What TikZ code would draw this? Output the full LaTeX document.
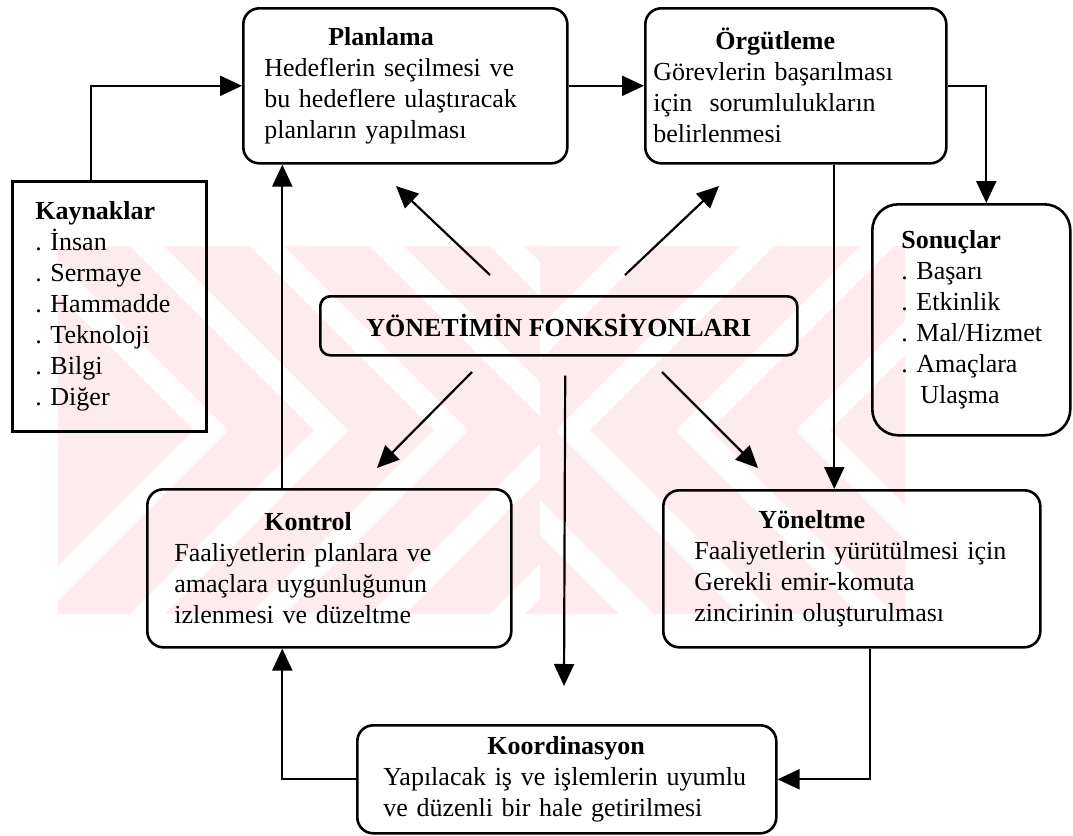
\documentclass[tikz,border=0pt]{standalone}
\usepackage{fontspec}
\setmainfont{Liberation Serif}
\usepackage{xcolor}
\usepackage{tikz}
\usetikzlibrary{arrows.meta,calc}
\definecolor{wmpink}{RGB}{253,235,238}

\begin{document}
\begin{tikzpicture}[x=0.5pt,y=-0.5pt,
		fbox/.style={draw,line width=1.3pt,rounded corners=8pt,anchor=north west,
			align=left,inner ysep=0pt,font=\fontsize{13}{15.5}\selectfont},
		arr/.style={-{Triangle[length=11pt,width=10pt]},line width=1.1pt}]
	\useasboundingbox (0,0) rectangle (1073,836);
	
	% Faint watermark behind the chart.
	\begin{scope}
		\clip (58,246) rectangle (905,614);
		\fill[wmpink] (58,246) rectangle (905,614);
		\begin{scope}
			\clip (58,246) rectangle (540,614);
			\foreach \s in {10,130,250,370,490}
			\fill[white] (\s,246) -- ++(34,0) -- ++(184,184) -- ++(-184,184)
			-- ++(-34,0) -- ++(184,-184) -- cycle;
		\end{scope}
		\begin{scope}
			\clip (540,246) rectangle (905,614);
			\foreach \s in {620,740,860,980,1100}
			\fill[white] (\s,246) -- ++(34,0) -- ++(-184,184) -- ++(184,184)
			-- ++(-34,0) -- ++(-184,-184) -- cycle;
		\end{scope}
	\end{scope}
	
	% The management functions.
	\node[fbox,text width=141pt,inner xsep=10.5pt,minimum height=77.5pt] (plan) at (242,7)
	{\hspace*{32pt}\textbf{Planlama}\\ Hedeflerin seçilmesi ve\\ bu hedeflere ulaştıracak\\ planların yapılması};
	\node[fbox,text width=142.5pt,inner xsep=4pt,minimum height=77.5pt] (org) at (644,7)
	{\hspace*{31pt}\textbf{Örgütleme}\\ Görevlerin başarılması\\ için~ sorumlulukların\\ belirlenmesi};
	\node[fbox,text width=155pt,inner xsep=13.5pt,minimum height=79pt] (kon) at (146,488)
	{\hspace*{45pt}\textbf{Kontrol}\\ Faaliyetlerin planlara ve\\ amaçlara uygunluğunun\\ izlenmesi ve düzeltme};
	\node[fbox,text width=157.5pt,inner xsep=15.5pt,minimum height=78.5pt] (yon) at (662,489)
	{\hspace*{32pt}\textbf{Yöneltme}\\ Faaliyetlerin yürütülmesi için\\ Gerekli emir-komuta\\ zincirinin oluşturulması};
	\node[fbox,text width=183.5pt,inner xsep=13pt,minimum height=54pt] (koor) at (356,724)
	{\hspace*{52pt}\textbf{Koordinasyon}\\ Yapılacak iş ve işlemlerin uyumlu\\ ve düzenli bir hale getirilmesi};
	
	% Inputs and outputs.
	\node[fbox,sharp corners,text width=74pt,inner xsep=11.5pt,minimum height=125pt] (kaynak) at (11,180)
	{\textbf{Kaynaklar}\\ .~İnsan\\ .~Sermaye\\ .~Hammadde\\ .~Teknoloji\\ .~Bilgi\\ .~Diğer};
	\node[fbox,rounded corners=13pt,text width=70pt,inner xsep=14.5pt,minimum height=115.5pt] (sonuc) at (871,203)
	{\textbf{Sonuçlar}\\ .~Başarı\\ .~Etkinlik\\ .~Mal/Hizmet\\ .~Amaçlara\\ \hspace*{9.5pt}Ulaşma};
	
	\node[fbox,rounded corners=5pt,align=center,minimum width=238.5pt,minimum height=29.5pt,inner xsep=0pt] (fonk) at (319,295)
	{\textbf{YÖNETİMİN FONKSİYONLARI}};
	
	% Free ends of the arrows leaving the centre.
	\coordinate (d1s) at (490,275); \coordinate (d1e) at (396,186);
	\coordinate (d2s) at (625,275); \coordinate (d2e) at (719,186);
	\coordinate (d3s) at (472,372); \coordinate (d3e) at (377,468);
	\coordinate (d4s) at (662,372); \coordinate (d4e) at (758,468);
	\coordinate (fdown) at (564,686);
	
	% The cycle of functions.
	\draw[arr] ([xshift=-9pt]kaynak.north) |- (plan.west);
	\draw[arr] (plan.east) -- (org.west);
	\draw[arr] (org.east) -| ([xshift=7.5pt]sonuc.north);
	\draw[arr] ([xshift=19.25pt]org.south) -- ([xshift=19.25pt]org.south |- yon.north);
	\draw[arr] ([xshift=9.25pt]yon.south) |- (koor.east);
	\draw[arr] (koor.west) -| ([xshift=-23.5pt]kon.south);
	\draw[arr] ([xshift=-23.5pt]kon.north) -- ([xshift=-23.5pt]kon.north |- plan.south);
	
	% Arrows from the centre.
	\draw[arr] (d1s) -- (d1e);
	\draw[arr] (d2s) -- (d2e);
	\draw[arr] (d3s) -- (d3e);
	\draw[arr] (d4s) -- (d4e);
	\draw[arr,shorten <=9.5pt] ([xshift=3.25pt]fonk.south) -- (fdown);
\end{tikzpicture}
\end{document}
